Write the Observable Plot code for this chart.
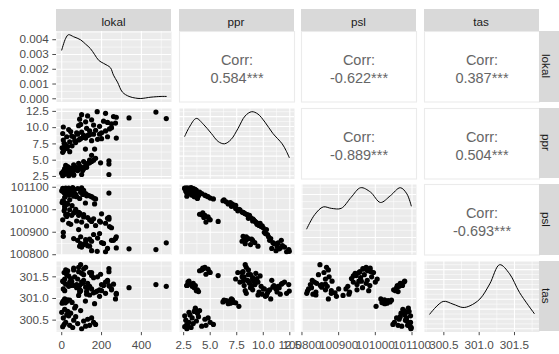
<!DOCTYPE html>
<html><head><meta charset="utf-8">
<script src="https://cdn.jsdelivr.net/npm/d3@7"></script>
<script src="https://cdn.jsdelivr.net/npm/@observablehq/plot@0.6"></script>
<style>
body{margin:0;background:#fff;}
#chart{position:relative;width:559px;height:354px;overflow:hidden;background:#fff;font-family:"Liberation Sans",Arial,sans-serif;}
.strip{position:absolute;background:#D9D9D9;color:#1A1A1A;font-size:11.7px;display:flex;align-items:center;justify-content:center;box-sizing:border-box;}
</style></head><body><div id="chart"></div>
<script>
// ---- variables ----
const vars = ["lokal", "ppr", "psl", "tas"];

const lokal = [
  5,12,20,8,25,30,15,40,45,55,60,70,80,95,110,120,130,150,160,170,140,35,0,65,100,
  237,60,10,20,35,50,75,90,105,125,45,15,
  30,60,85,110,140,150,195,20,237,237,
  5,10,18,25,30,52,119,165,40,15,2,70,
  95,120,60,150,110,180,80,8,200,140,274,15,40,65,90,110,25,50,130,160,5,75,100,190,220,45,170,240,12,85,200,250,35,125,230,
  338,473,525,178,274,100,130,150,210,230,250,90,160,190,260,120,95,8,220,270,85,140
];
const ppr = [
  2.6,2.8,3.0,3.3,3.1,3.5,3.6,2.9,3.8,3.2,2.7,3.9,3.4,4.0,3.7,4.2,4.5,4.8,5.0,5.3,4.6,2.6,3.0,3.6,2.8,
  2.8,2.8,2.9,3.1,3.3,3.0,3.5,3.8,3.4,3.9,3.6,3.7,
  4.0,4.3,4.5,4.8,5.0,5.75,4.6,4.2,4.9,4.4,
  6.2,6.5,7.4,6.8,7.1,7.2,6.7,6.7,6.3,7.0,6.9,7.7,
  8.3,8.4,8.6,8.0,8.8,8.2,9.0,8.1,9.2,8.9,8.4,7.4,7.8,8.0,8.2,8.5,8.6,8.7,8.8,9.0,9.1,9.2,9.3,9.0,9.5,9.4,9.6,9.8,7.6,8.1,8.3,10.0,9.7,9.9,8.6,
  11.5,12.4,11.4,12.45,11.6,12.0,11.8,11.2,11.0,10.8,10.6,11.3,10.4,10.2,11.7,10.9,10.5,10.1,12.2,10.7,10.3,9.5
];
const psl = [
  101095,101090,101096,101085,101080,101092,101075,101088,101070,101098,101082,101068,101094,101078,101086,101072,101065,101058,101052,101048,101062,101096,101084,101090,101097,
  101074,101060,101078,101070,101065,101080,101058,101050,101068,101062,101072,101055,
  100980,100986,100975,100968,100955,100948,100945,100978,100958,100966,
  101040,101035,101020,101028,101025,101018,101030,101026,101044,101015,101032,101002,
  100849,100867,100872,100860,100845,100874,100864,100882,100854,100869,100880,101005,101000,100990,100985,100978,100970,100975,100965,100960,100955,100950,100945,100950,100940,100935,100930,100925,100995,100988,100982,100920,100940,100928,100962,
  100826,100823,100853,100815,100830,100834,100840,100818,100850,100828,100864,100838,100890,100894,100864,100854,100880,100900,100813,100872,100912,100838
];
const tas = [
  300.35,300.40,300.45,300.55,300.62,300.70,300.75,300.38,300.66,300.33,300.50,300.58,300.42,300.72,300.48,300.36,300.52,300.55,300.45,300.40,300.38,300.60,300.68,300.78,300.30,
  301.30,301.30,301.38,301.33,301.28,301.40,301.25,301.20,301.35,301.16,301.30,301.18,
  301.64,301.70,301.72,301.68,301.60,301.53,301.56,301.66,301.62,301.69,
  300.92,300.95,300.90,300.93,300.97,300.91,300.94,300.88,300.96,300.99,300.89,300.82,
  301.78,301.72,301.66,301.60,301.55,301.50,301.45,301.40,301.32,301.28,301.12,301.45,301.38,301.50,301.30,301.42,301.55,301.35,301.25,301.48,301.40,301.32,301.58,301.20,301.38,301.46,301.15,301.28,301.60,301.62,301.18,301.22,301.52,301.10,301.40,
  301.25,301.32,301.28,301.17,301.10,301.38,301.35,301.22,301.30,301.42,301.20,301.15,301.13,301.05,301.33,301.26,301.18,301.22,301.12,300.99,301.07,301.08
];

// ---- diagonal density curves ----
const lokalDensX = [0, 20, 34, 60, 94, 120, 144, 165, 186, 210, 229, 245, 260, 280, 305, 338, 370, 397, 448, 499, 525];
const lokalDensY = [0.0033, 0.0041, 0.00434, 0.0042, 0.0040, 0.0037, 0.0034, 0.0030, 0.0026, 0.0024, 0.00226, 0.0021, 0.0016, 0.00113, 0.00045, 0.00016, 0.00005, 0.00002, 0.00011, 0.00016, 0.00016];
const pprDensX = [2.6, 3.03, 3.69, 4.35, 5.1, 5.75, 6.34, 6.97, 7.63, 8.28, 8.91, 9.5, 10.16, 10.9, 11.78, 12.15, 12.45];
const pprDensY = [0.080, 0.0985, 0.1164, 0.1047, 0.0861, 0.0696, 0.0649, 0.0737, 0.0964, 0.1211, 0.13, 0.1252, 0.1088, 0.0861, 0.0649, 0.051, 0.037];
const pslDensX = [100813, 100835, 100858, 100880, 100907, 100934, 100960, 100987, 101014, 101041, 101068, 101086, 101098];
const pslDensY = [0.0016, 0.0026, 0.00313, 0.00303, 0.00303, 0.0038, 0.00447, 0.00416, 0.00344, 0.00391, 0.00447, 0.00404, 0.0032];
const tasDensX = [300.30, 300.49, 300.63, 300.77, 300.87, 301.01, 301.15, 301.29, 301.43, 301.57, 301.78];
const tasDensY = [0.297, 0.555, 0.50, 0.432, 0.467, 0.604, 0.911, 1.30, 1.116, 0.739, 0.309];

// ---- correlations shown in the upper panels ----
const corrPairs = [[0,1],[0,2],[0,3],[1,2],[1,3],[2,3]];
const corrValues = [0.584, -0.622, 0.387, -0.889, 0.504, -0.693];

// ---- tick values ----
const lokalTicks = [0, 200, 400];
const pprTicks = [2.5, 5, 7.5, 10, 12.5];
const pslTicks = [100800, 100900, 101000, 101100];
const tasTicks = [300.5, 301, 301.5];
const densTicks = [0, 0.001, 0.002, 0.003, 0.004];

// ---- build table ----
const rows = lokal.map((d, i) => ({lokal: d, ppr: ppr[i], psl: psl[i], tas: tas[i]}));
const dens = {
  lokal: lokalDensX.map((x, i) => ({x, y: lokalDensY[i]})),
  ppr: pprDensX.map((x, i) => ({x, y: pprDensY[i]})),
  psl: pslDensX.map((x, i) => ({x, y: pslDensY[i]})),
  tas: tasDensX.map((x, i) => ({x, y: tasDensY[i]}))
};
const ticks = {lokal: lokalTicks, ppr: pprTicks, psl: pslTicks, tas: tasTicks};
const fmt = {
  lokal: d => d.toFixed(0), ppr: d => d.toFixed(1), psl: d => d.toFixed(0), tas: d => d.toFixed(1)
};
const expand = ([a, b]) => { const r = b - a; return [a - 0.05 * r, b + 0.05 * r]; };
const dom = {};
vars.forEach(v => dom[v] = expand(d3.extent(rows, d => d[v])));
const densDom = {};
vars.forEach(v => densDom[v] = expand([0, d3.max(dens[v], d => d.y)]));

const inDom = (t, d) => t.filter(v => v >= d[0] && v <= d[1]);
function minors(t, d) {
  const step = t.length > 1 ? t[1] - t[0] : 1;
  const out = [];
  for (let v = t[0] - step / 2; v <= d[1]; v += step) if (v >= d[0]) out.push(v);
  return out;
}

// ---- layout ----
const W = 115, H = 70.5;
const colLeft = [56, 178.5, 301, 423.5];
const rowTop = [31, 107.5, 184, 260.5];
const chart = document.getElementById("chart");
const FONT = '"Liberation Sans", Arial, sans-serif';

function place(el, left, top) {
  el.style.position = "absolute";
  el.style.left = left + "px";
  el.style.top = top + "px";
  chart.appendChild(el);
}

for (let r = 0; r < 4; r++) {
  for (let c = 0; c < 4; c++) {
    if (c > r) {
      const k = corrPairs.findIndex(p => p[0] === r && p[1] === c);
      const val = corrValues[k];
      const svg = Plot.plot({
        width: W, height: H, margin: 0,
        style: {background: "transparent", fontFamily: FONT, overflow: "visible"},
        x: {domain: [0, 1], axis: null}, y: {domain: [0, 1], axis: null},
        marks: [
          Plot.frame({fill: "#fff", stroke: "#EBEBEB", strokeWidth: 1.1}),
          Plot.text(["Corr:"], {frameAnchor: "middle", text: d => d, dy: -6.5, fontSize: 14.5, fill: "#666"}),
          Plot.text([val], {frameAnchor: "middle", text: d => d.toFixed(3) + "***", dy: 11.5, fontSize: 14.5, fill: "#666"})
        ]
      });
      place(svg, colLeft[c], rowTop[r]);
      continue;
    }
    const xv = vars[c], yv = vars[r];
    const xDom = dom[xv];
    const xT = ticks[xv];
    let yDom, yT, yFmt;
    if (r === c) {
      yDom = densDom[xv];
      yT = r === 0 ? densTicks : d3.ticks(yDom[0], yDom[1], 5);
      yFmt = d => d.toFixed(3);
    } else {
      yDom = dom[yv];
      yT = ticks[yv];
      yFmt = fmt[yv];
    }
    const ml = c === 0 ? 56 : 0;
    const mb = r === 3 ? 23 : 0;
    const marks = [
      Plot.frame({fill: "#EBEBEB", stroke: "none"}),
      Plot.ruleX(minors(xT, xDom), {stroke: "#fff", strokeWidth: 0.55}),
      Plot.ruleY(minors(yT, yDom), {stroke: "#fff", strokeWidth: 0.55}),
      Plot.ruleX(inDom(xT, xDom), {stroke: "#fff", strokeWidth: 1.1}),
      Plot.ruleY(inDom(yT, yDom), {stroke: "#fff", strokeWidth: 1.1})
    ];
    if (r === c) {
      marks.push(Plot.line(dens[xv], {x: "x", y: "y", stroke: "#000", strokeWidth: 1, curve: "catmull-rom"}));
    } else {
      marks.push(Plot.dot(rows, {x: xv, y: yv, r: 2.6, fill: "#000", stroke: "none", clip: true}));
    }
    const svg = Plot.plot({
      width: W + ml, height: H + mb,
      marginLeft: ml, marginRight: 0, marginTop: 0, marginBottom: mb,
      style: {background: "transparent", fontFamily: FONT, fontSize: "11.7px", color: "#4D4D4D", overflow: "visible"},
      x: {domain: xDom, axis: r === 3 ? "bottom" : null, ticks: xT, tickFormat: fmt[xv], tickSize: 3.7, tickPadding: 5, label: null},
      y: {domain: yDom, axis: c === 0 ? "left" : null, ticks: yT, tickFormat: yFmt, tickSize: 3.7, tickPadding: 4, label: null},
      marks
    });
    place(svg, colLeft[c] - ml, rowTop[r]);
  }
}

// ---- strips ----
vars.forEach((v, i) => {
  const top = document.createElement("div");
  top.className = "strip";
  top.textContent = v;
  top.style.left = colLeft[i] + "px";
  top.style.top = "8.5px";
  top.style.width = W + "px";
  top.style.height = "22.5px";
  top.style.paddingTop = "3px";
  chart.appendChild(top);

  const right = document.createElement("div");
  right.className = "strip";
  right.style.left = (colLeft[3] + W) + "px";
  right.style.top = rowTop[i] + "px";
  right.style.width = "20.5px";
  right.style.height = H + "px";
  right.style.paddingRight = "4px";
  const span = document.createElement("span");
  span.textContent = v;
  span.style.writingMode = "vertical-rl";
  right.appendChild(span);
  chart.appendChild(right);
});
</script>
</body></html>
